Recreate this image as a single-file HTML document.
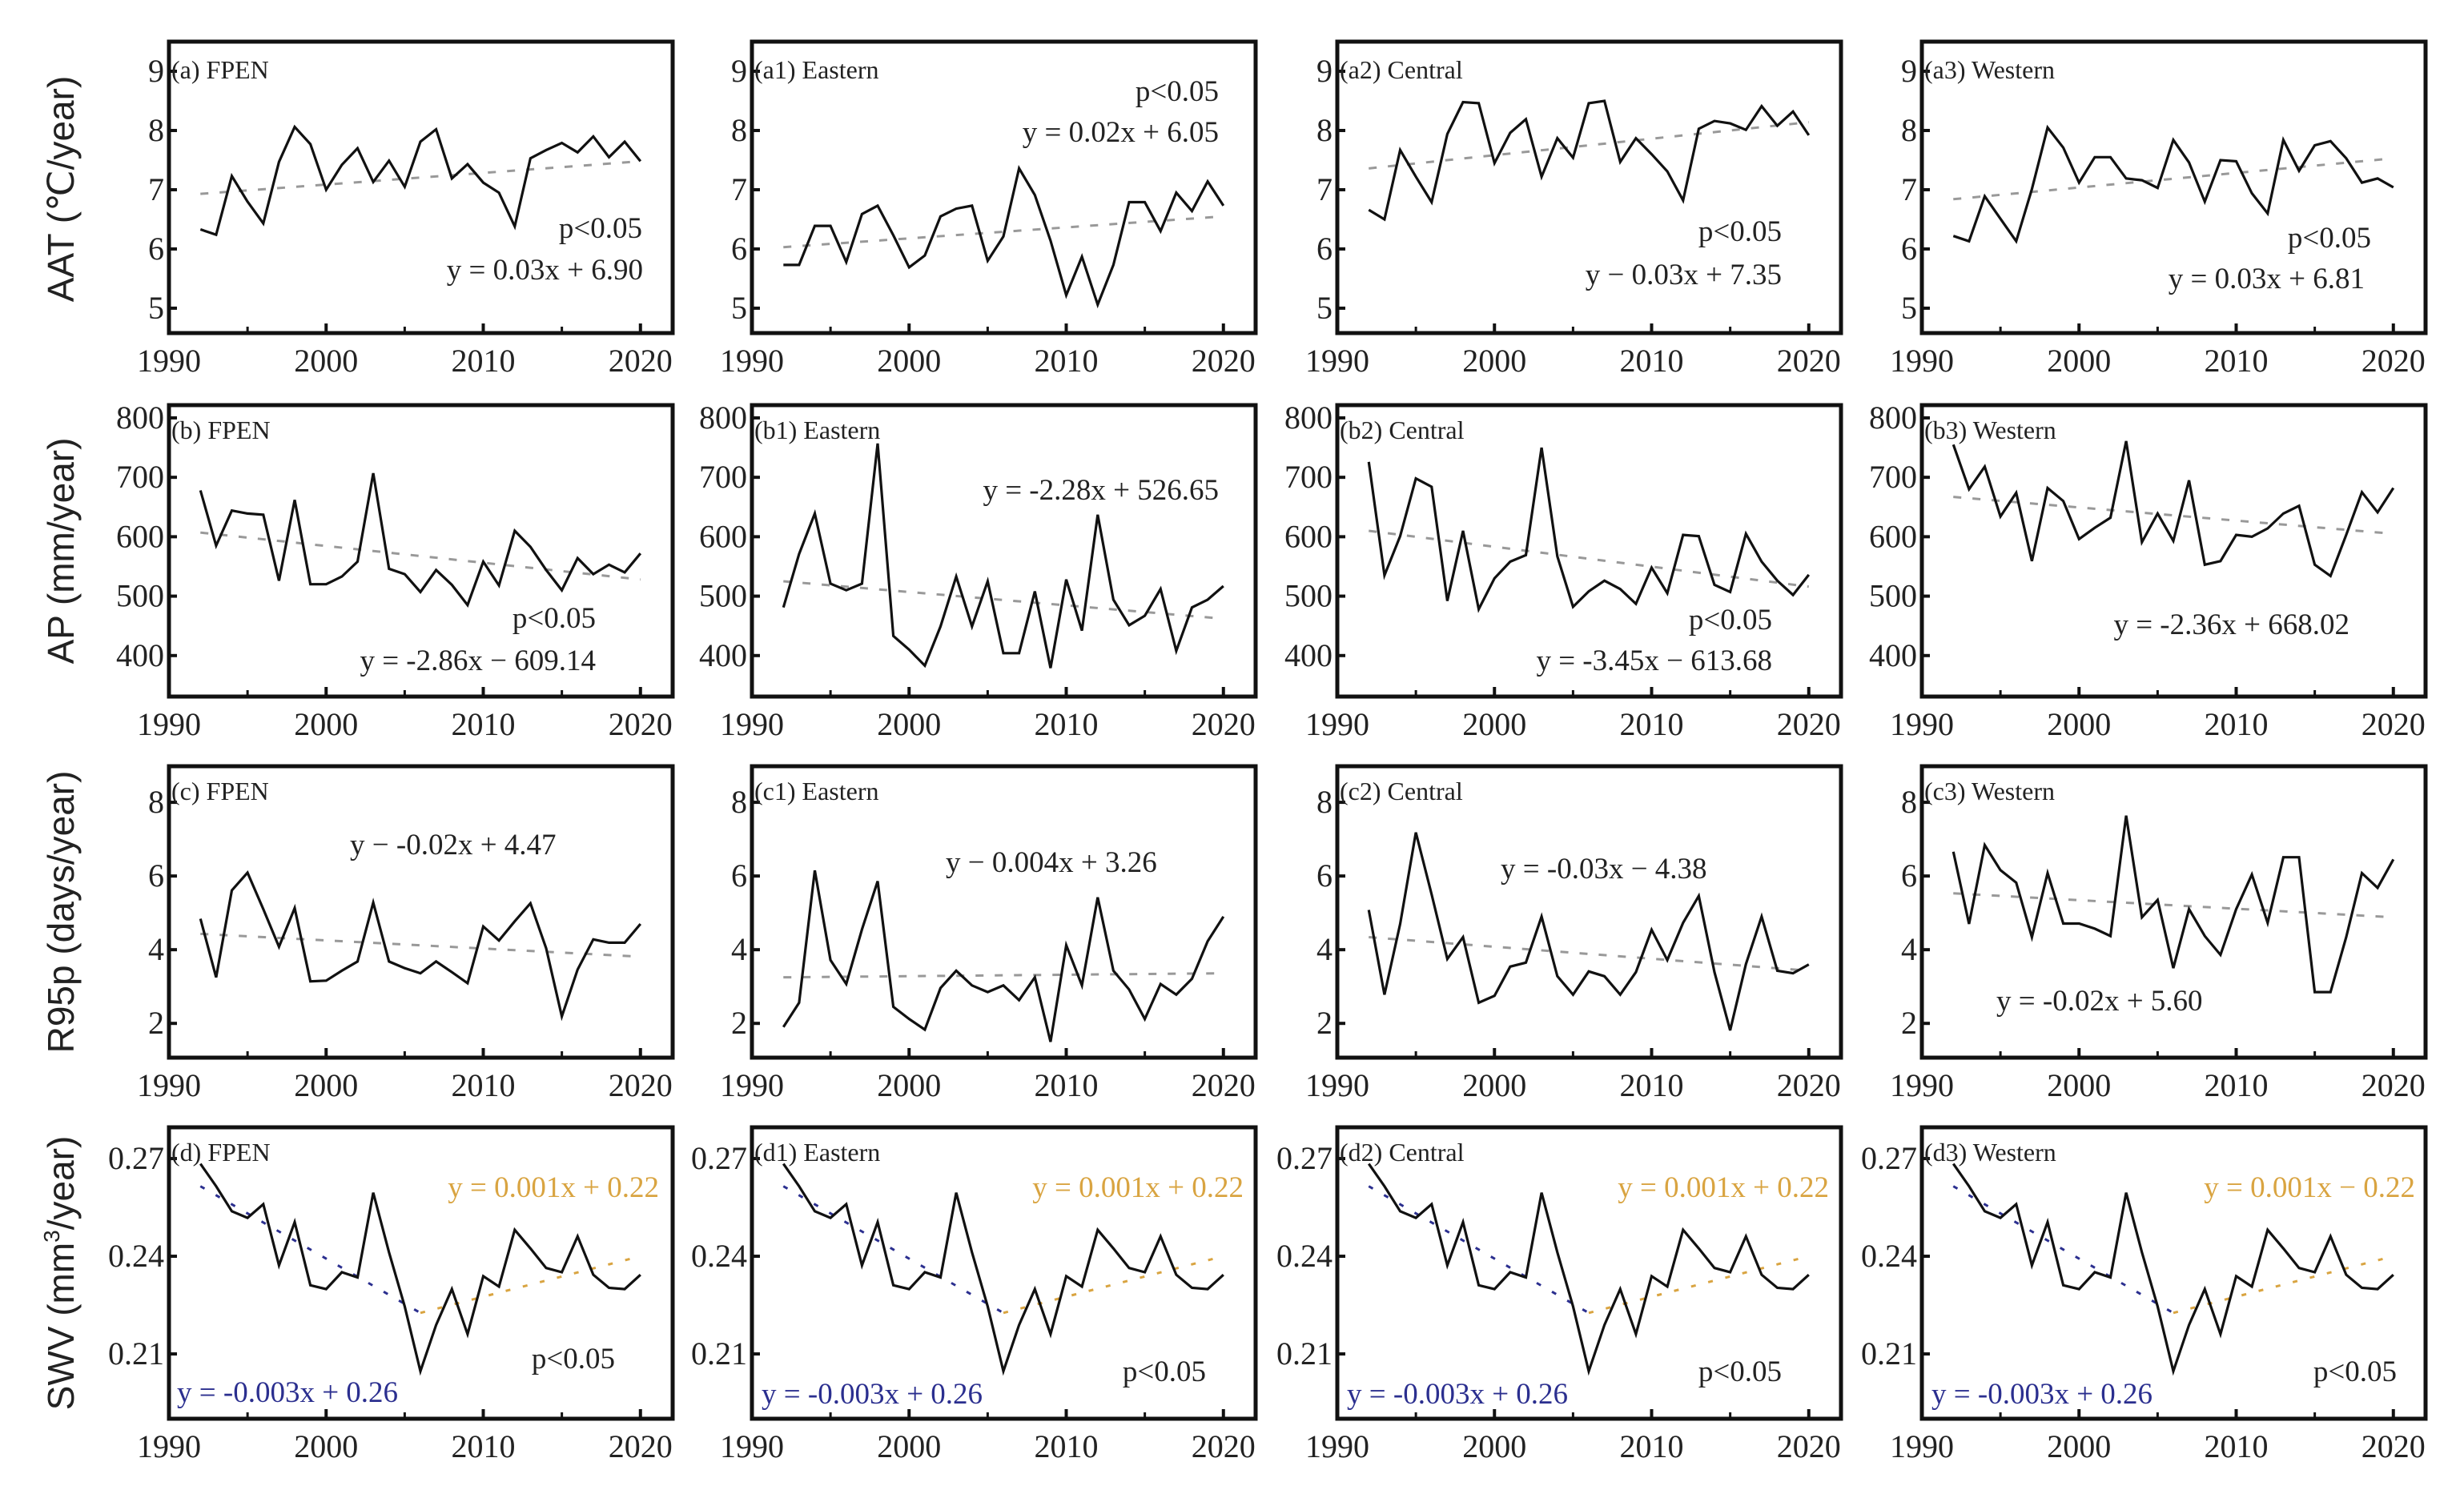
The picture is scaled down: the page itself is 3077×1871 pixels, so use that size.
<!DOCTYPE html>
<html><head><meta charset="utf-8"><style>
html,body{margin:0;padding:0;background:#fff;}
svg{display:block;}
.tk{font-family:"Liberation Serif",serif;font-size:40px;fill:#222;}
.pl{font-family:"Liberation Serif",serif;font-size:32px;fill:#222;}
.an{font-family:"Liberation Serif",serif;font-size:37px;fill:#222;}
.yt{font-family:"Liberation Sans",sans-serif;font-size:46px;fill:#222;}
</style></head><body>
<svg id="fig" width="3077" height="1871" viewBox="0 0 3077 1871" xmlns="http://www.w3.org/2000/svg">
<text class="yt" transform="translate(92,236) rotate(-90)" text-anchor="middle">AAT (℃/year)</text>
<text class="yt" transform="translate(92,688) rotate(-90)" text-anchor="middle">AP (mm/year)</text>
<text class="yt" transform="translate(92,1139) rotate(-90)" text-anchor="middle">R95p (days/year)</text>
<text class="yt" transform="translate(92,1590) rotate(-90)" text-anchor="middle">SWV (mm<tspan dy="-18" font-size="28">3</tspan><tspan dy="18">/year)</tspan></text>

<!-- annotations -->
<g class="an">
<text x="802" y="297" text-anchor="end">p&lt;0.05</text>
<text x="803" y="349" text-anchor="end">y = 0.03x + 6.90</text>
<text x="1522" y="126" text-anchor="end">p&lt;0.05</text>
<text x="1522" y="177" text-anchor="end">y = 0.02x + 6.05</text>
<text x="2225" y="301" text-anchor="end">p&lt;0.05</text>
<text x="2225" y="355" text-anchor="end">y − 0.03x + 7.35</text>
<text x="2961" y="309" text-anchor="end">p&lt;0.05</text>
<text x="2953" y="360" text-anchor="end">y = 0.03x + 6.81</text>
<text x="744" y="784" text-anchor="end">p&lt;0.05</text>
<text x="744" y="837" text-anchor="end">y = -2.86x − 609.14</text>
<text x="1522" y="624" text-anchor="end">y = -2.28x + 526.65</text>
<text x="2213" y="786" text-anchor="end">p&lt;0.05</text>
<text x="2213" y="837" text-anchor="end">y = -3.45x − 613.68</text>
<text x="2934" y="792" text-anchor="end">y = -2.36x + 668.02</text>
<text x="437" y="1067">y − -0.02x + 4.47</text>
<text x="1181" y="1089">y − 0.004x + 3.26</text>
<text x="1874" y="1097">y = -0.03x − 4.38</text>
<text x="2493" y="1262">y = -0.02x + 5.60</text>
<text x="823" y="1495" text-anchor="end" fill="#d9a441">y = 0.001x + 0.22</text>
<text x="221" y="1751" fill="#2b2f8f">y = -0.003x + 0.26</text>
<text x="768" y="1709" text-anchor="end">p&lt;0.05</text>
<text x="1553" y="1495" text-anchor="end" fill="#d9a441">y = 0.001x + 0.22</text>
<text x="951" y="1753" fill="#2b2f8f">y = -0.003x + 0.26</text>
<text x="1506" y="1725" text-anchor="end">p&lt;0.05</text>
<text x="2284" y="1495" text-anchor="end" fill="#d9a441">y = 0.001x + 0.22</text>
<text x="1682" y="1753" fill="#2b2f8f">y = -0.003x + 0.26</text>
<text x="2225" y="1725" text-anchor="end">p&lt;0.05</text>
<text x="3016" y="1495" text-anchor="end" fill="#d9a441">y = 0.001x − 0.22</text>
<text x="2412" y="1753" fill="#2b2f8f">y = -0.003x + 0.26</text>
<text x="2993" y="1725" text-anchor="end">p&lt;0.05</text>
</g>
</svg>
<script>
// ---- data (years 1992..2020) ----
const years = [1992,1993,1994,1995,1996,1997,1998,1999,2000,2001,2002,2003,2004,2005,2006,2007,2008,2009,2010,2011,2012,2013,2014,2015,2016,2017,2018,2019,2020];
const xTicks = [1990,2000,2010,2020];
const xMinor = [1995,2005,2015];
const aatFPEN = [6.33,6.24,7.23,6.8,6.43,7.47,8.06,7.77,7.0,7.42,7.7,7.13,7.49,7.05,7.81,8.02,7.19,7.43,7.12,6.95,6.38,7.53,7.67,7.79,7.63,7.9,7.55,7.81,7.48];
const aatEast = [5.73,5.73,6.39,6.39,5.78,6.59,6.73,6.23,5.69,5.89,6.55,6.68,6.73,5.8,6.21,7.36,6.91,6.14,5.22,5.87,5.06,5.73,6.79,6.79,6.3,6.95,6.64,7.14,6.73];
const aatCent = [6.66,6.5,7.67,7.22,6.79,7.94,8.48,8.46,7.45,7.96,8.19,7.22,7.87,7.54,8.46,8.5,7.47,7.87,7.6,7.31,6.82,8.03,8.16,8.12,8.01,8.41,8.08,8.32,7.92];
const aatWest = [6.22,6.13,6.89,6.51,6.13,7.01,8.05,7.71,7.12,7.55,7.55,7.19,7.16,7.03,7.84,7.46,6.8,7.5,7.48,6.94,6.6,7.84,7.32,7.75,7.82,7.53,7.12,7.19,7.04];
const apFPEN = [678,585,644,639,637,526,662,520,520,533,558,707,546,537,507,544,519,485,558,518,610,583,544,510,564,537,553,540,572];
const apEast = [481,571,639,521,510,521,757,433,410,383,449,533,449,525,404,404,508,379,528,442,637,494,451,467,512,408,481,494,517];
const apCent = [726,535,601,698,684,492,610,478,530,558,569,750,567,482,508,526,512,487,548,505,603,601,519,507,605,558,526,502,536];
const apWest = [755,680,718,634,674,559,682,660,596,615,632,761,591,639,593,695,553,559,603,600,614,639,652,553,534,603,675,641,682];
const r95FPEN = [4.84,3.25,5.61,6.09,5.1,4.08,5.13,3.14,3.16,3.43,3.68,5.28,3.68,3.5,3.36,3.68,3.39,3.09,4.63,4.25,4.77,5.26,4.04,2.19,3.46,4.28,4.19,4.19,4.7];
const r95East = [1.9,2.56,6.15,3.72,3.07,4.55,5.86,2.45,2.12,1.83,2.96,3.43,3.03,2.85,3.03,2.63,3.25,1.5,4.12,3.03,5.42,3.43,2.92,2.12,3.07,2.78,3.21,4.23,4.9];
const r95Cent = [5.08,2.78,4.7,7.18,5.5,3.75,4.34,2.56,2.75,3.54,3.65,4.9,3.28,2.78,3.41,3.28,2.78,3.39,4.54,3.72,4.73,5.46,3.39,1.81,3.61,4.9,3.43,3.36,3.6];
const r95West = [6.66,4.7,6.84,6.16,5.82,4.34,6.08,4.71,4.71,4.57,4.37,7.64,4.88,5.35,3.5,5.1,4.37,3.86,5.1,6.04,4.73,6.51,6.51,2.85,2.85,4.34,6.08,5.68,6.45];
const swvAll = [0.2684,0.2615,0.2538,0.2518,0.256,0.2372,0.2505,0.2311,0.2299,0.2351,0.2335,0.2595,0.2412,0.2246,0.2047,0.2189,0.2299,0.2161,0.2339,0.2307,0.2481,0.2424,0.2364,0.2351,0.2461,0.2343,0.2303,0.2299,0.2343];
// trend endpoints [value at 1992, value at 2020]
const trendAatFPEN = [6.93,7.48];
const trendAatEast = [6.03,6.55];
const trendAatCent = [7.36,8.14];
const trendAatWest = [6.84,7.53];
const trendApFPEN = [607,528];
const trendApEast = [525,462];
const trendApCent = [610,516];
const trendApWest = [667,605];
const trendR95FPEN = [4.43,3.81];
const trendR95East = [3.25,3.36];
const trendR95Cent = [4.34,3.43];
const trendR95West = [5.53,4.88];
// SWV piecewise trend: [1992 value, 2006 value, 2020 value]
const trendSwv = [0.2615,0.2226,0.240];
const breakYear = 2006;
const ticksA = [5,6,7,8,9];
const ticksB = [400,500,600,700,800];
const ticksC = [2,4,6,8];
const ticksD = [0.21,0.24,0.27];

// ---- layout ----
const NS = "http://www.w3.org/2000/svg";
const svg = document.getElementById('fig');
const colLeft = [211,939,1670,2400];
const rowTop = [52,506,957,1408];
const PW = 629, PH = 364;
const rowDomain = [[4.58,9.5],[331,821.5],[1.07,8.98],[0.1901,0.2796]];
const rowTicks = [ticksA,ticksB,ticksC,ticksD];
const rowFmt = [v=>String(v),v=>String(v),v=>String(v),v=>v.toFixed(2)];
const rowKey = ['a','b','c','d'];
const colName = ['FPEN','Eastern','Central','Western'];
const series = [[aatFPEN,aatEast,aatCent,aatWest],[apFPEN,apEast,apCent,apWest],[r95FPEN,r95East,r95Cent,r95West],[swvAll,swvAll,swvAll,swvAll]];
const trends = [[trendAatFPEN,trendAatEast,trendAatCent,trendAatWest],[trendApFPEN,trendApEast,trendApCent,trendApWest],[trendR95FPEN,trendR95East,trendR95Cent,trendR95West],null];

function mk(tag, attrs){const e=document.createElementNS(NS,tag);for(const k in attrs)e.setAttribute(k,attrs[k]);return e;}

for(let r=0;r<4;r++){
  for(let c=0;c<4;c++){
    const L=colLeft[c], T=rowTop[r];
    const [d0,d1]=rowDomain[r];
    const xs=yr=>L+(yr-1990)*(PW/32.05);
    const ys=v=>T+PH-(v-d0)/(d1-d0)*PH;
    const g=mk('g',{});
    
    
    svg.appendChild(g);
    // frame
    const fr=mk('rect',{x:L,y:T,width:PW,height:PH,fill:'none',stroke:'#111','stroke-width':5});
    
    
    g.appendChild(fr);
    // x ticks
    xTicks.forEach(t=>{
      const x=xs(t);
      const l=mk('line',{x1:x,x2:x,y1:T+PH,y2:T+PH-12,stroke:'#111','stroke-width':4});
      
      
      g.appendChild(l);
      const tx=mk('text',{x:x,y:T+PH+48,'text-anchor':'middle',class:'tk'});
      tx.textContent=t;
      
      
      g.appendChild(tx);
    });
    xMinor.forEach(t=>{
      const x=xs(t);
      const l=mk('line',{x1:x,x2:x,y1:T+PH,y2:T+PH-8,stroke:'#111','stroke-width':3});
      
      
      g.appendChild(l);
    });
    // y ticks
    rowTicks[r].forEach(t=>{
      const y=ys(t);
      const l=mk('line',{x1:L,x2:L+10,y1:y,y2:y,stroke:'#111','stroke-width':4});
      
      
      g.appendChild(l);
      const tx=mk('text',{x:L-6,y:y+13,'text-anchor':'end',class:'tk'});
      tx.textContent=rowFmt[r](t);
      
      
      g.appendChild(tx);
    });
    // trend
    if(trends[r]){
      const tr=trends[r][c];
      const tl=mk('line',{x1:xs(years[0]),y1:ys(tr[0]),x2:xs(years[years.length-1]),y2:ys(tr[1]),stroke:'#999','stroke-width':3,'stroke-dasharray':'10 14'});
      
      
      g.appendChild(tl);
    } else {
      const b1=mk('line',{x1:xs(years[0]),y1:ys(trendSwv[0]),x2:xs(breakYear),y2:ys(trendSwv[1]),stroke:'#2b2f8f','stroke-width':3,'stroke-dasharray':'6 16'});
      
      
      g.appendChild(b1);
      const b2=mk('line',{x1:xs(breakYear),y1:ys(trendSwv[1]),x2:xs(years[years.length-1]),y2:ys(trendSwv[2]),stroke:'#d9a441','stroke-width':3,'stroke-dasharray':'6 16'});
      
      
      g.appendChild(b2);
    }
    // series
    const data=series[r][c];
    const pts=years.map((yr,i)=>xs(yr).toFixed(1)+','+ys(data[i]).toFixed(1)).join(' ');
    const pl=mk('polyline',{points:pts,fill:'none',stroke:'#111','stroke-width':3.2,'stroke-linejoin':'miter'});
    
    
    g.appendChild(pl);
    // panel label
    const lb=mk('text',{x:L+3,y:T+(r===0?46:42),class:'pl'});
    lb.textContent='('+rowKey[r]+(c?c:'')+') '+colName[c];
    
    
    g.appendChild(lb);
  }
}
</script>
</body></html>
